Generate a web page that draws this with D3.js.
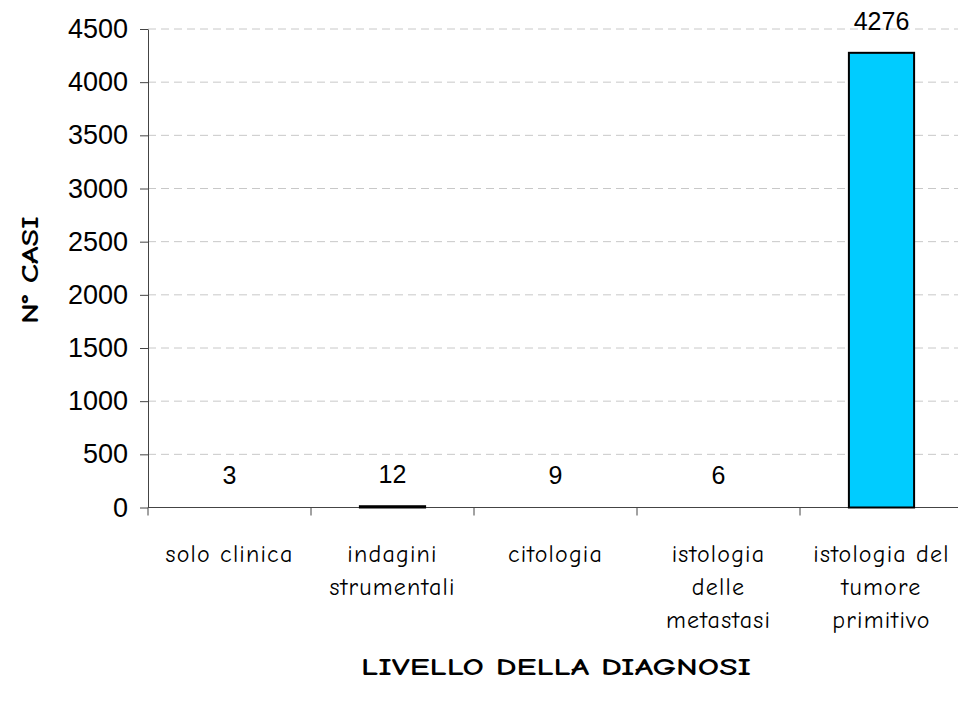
<!DOCTYPE html>
<html><head><meta charset="utf-8">
<script src="https://cdn.jsdelivr.net/npm/d3@7"></script>
<style>body{margin:0;background:#fff}</style>
</head><body>
<svg id="c" width="958" height="707"></svg>
<script>
const categories = [["solo clinica"],["indagini","strumentali"],["citologia"],["istologia","delle","metastasi"],["istologia del","tumore","primitivo"]];
const values = [3, 12, 9, 6, 4276];
const yTicks = [0,500,1000,1500,2000,2500,3000,3500,4000,4500];

const svg = d3.select("#c");
const mLeft = 148, mRight = 963, mTop = 29, mBottom = 507.5;
const font = "'Comic Sans MS','Comic Neue','Liberation Sans Narrow','DejaVu Sans Condensed',sans-serif";
const numFont = "'Liberation Sans',Arial,sans-serif";

const x = d3.scaleBand().domain(d3.range(categories.length)).range([mLeft, mRight]).paddingInner(0.6).paddingOuter(0.3);
const y = d3.scaleLinear().domain([0, 4500]).range([mBottom, mTop]);

// gridlines
svg.append("g").selectAll("line").data(yTicks.filter(d=>d>0)).join("line")
  .attr("x1", mLeft).attr("x2", 958).attr("y1", d=>y(d)).attr("y2", d=>y(d))
  .attr("stroke", "#c8c8c8").attr("stroke-dasharray", "8,5").attr("stroke-width", 1);

// y axis
const ya = svg.append("g").attr("transform", `translate(${mLeft},0)`)
  .call(d3.axisLeft(y).tickValues(yTicks).tickFormat(d3.format("d")).tickSize(8).tickSizeOuter(0).tickPadding(12));
ya.select(".domain").attr("stroke", "#444");
ya.selectAll(".tick line").attr("stroke", "#444");
ya.selectAll("text").attr("font-family", numFont).attr("font-size", 27).attr("fill", "#000");

// x axis with ticks at band boundaries
const bounds = d3.range(categories.length).map(i => mLeft + i * (mRight - mLeft) / categories.length);
svg.append("line").attr("x1", mLeft).attr("x2", 958).attr("y1", mBottom).attr("y2", mBottom).attr("stroke", "#444");
svg.append("g").selectAll("line").data(bounds).join("line")
  .attr("x1", d=>d).attr("x2", d=>d).attr("y1", mBottom).attr("y2", mBottom + 8).attr("stroke", "#444");

// bars (bars thinner than one pixel are not painted, as in the original)
svg.append("g").selectAll("rect").data(values).join("rect")
  .attr("x", (d,i)=>x(i)).attr("width", x.bandwidth())
  .attr("y", d=>y(d)).attr("height", d=>y(0)-y(d))
  .attr("fill", d => Math.floor(y(0)-y(d)) >= 1 ? "#00ccff" : "none")
  .attr("stroke", d => Math.floor(y(0)-y(d)) >= 1 ? "#000" : "none")
  .attr("stroke-width", 2);

// value labels
svg.append("g").selectAll("text").data(values).join("text")
  .attr("x", (d,i)=>x(i)+x.bandwidth()/2).attr("y", d=>y(d)-23)
  .attr("text-anchor", "middle").attr("font-family", numFont).attr("font-size", 25)
  .text(d=>d);

// category labels
const cl = svg.append("g").selectAll("text").data(categories).join("text")
  .attr("text-anchor", "middle").attr("font-family", font).attr("font-size", 24).attr("letter-spacing", 1.2)
  .attr("transform", (d,i)=>`translate(${x(i)+x.bandwidth()/2},562)`);
cl.selectAll("tspan").data(d=>d).join("tspan")
  .attr("x", 0).attr("y", (d,j)=>j*33).text(d=>d);

// axis titles
svg.append("text").attr("x", 556).attr("y", 675).attr("text-anchor", "middle")
  .attr("font-family", font).attr("font-weight", "bold").attr("font-size", 25)
  .attr("textLength", 390).attr("lengthAdjust", "spacingAndGlyphs").text("LIVELLO DELLA DIAGNOSI");
svg.append("text").attr("transform", "translate(38,270) rotate(-90)").attr("text-anchor", "middle")
  .attr("font-family", font).attr("font-weight", "bold").attr("font-size", 25)
  .attr("textLength", 108).attr("lengthAdjust", "spacingAndGlyphs").text("N° CASI");
</script>
</body></html>
